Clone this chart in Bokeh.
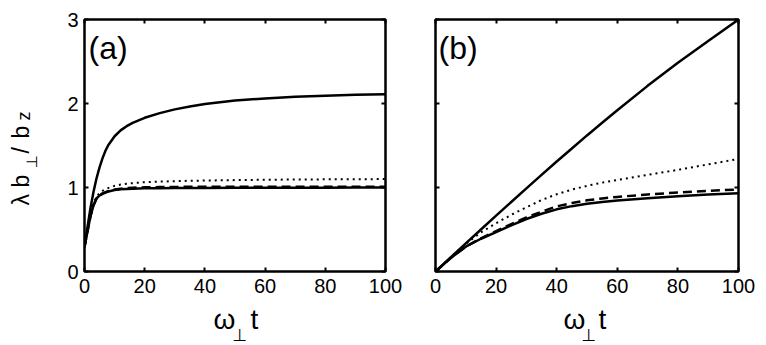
from bokeh.plotting import figure
from bokeh.layouts import row, column
from bokeh.models import Range1d, FixedTicker, LinearAxis, Label
from bokeh.embed import file_html
from bokeh.resources import INLINE
import math

# ---------------- data ----------------
x_ticks = [0, 20, 40, 60, 80, 100]
y_ticks = [0, 1, 2, 3]

# panel (a)
t_a = [0, 1, 2, 3, 4, 5, 6, 7, 8, 10, 12, 14, 16, 18, 20, 25, 30, 35, 40, 50, 60, 70, 80, 90, 100]
a_top = [0.29, 0.53, 0.76, 0.95, 1.11, 1.24, 1.35, 1.44, 1.51, 1.61, 1.68, 1.73, 1.77, 1.80, 1.83,
         1.885, 1.93, 1.965, 1.995, 2.035, 2.06, 2.08, 2.093, 2.103, 2.11]
a_bot = [0.29, 0.48, 0.66, 0.79, 0.87, 0.905, 0.925, 0.94, 0.953, 0.97, 0.978, 0.983, 0.986, 0.988,
         0.99, 0.992, 0.993, 0.994, 0.995, 0.996, 0.997, 0.998, 0.998, 0.999, 0.999]
a_dash = [0.29, 0.48, 0.66, 0.79, 0.87, 0.907, 0.93, 0.945, 0.958, 0.975, 0.985, 0.992, 0.996, 1.0,
          1.002, 1.005, 1.007, 1.008, 1.009, 1.01, 1.01, 1.01, 1.01, 1.01, 1.01]
a_dot = [0.29, 0.49, 0.68, 0.81, 0.89, 0.935, 0.96, 0.98, 0.995, 1.02, 1.035, 1.045, 1.052, 1.058,
         1.063, 1.07, 1.075, 1.08, 1.083, 1.088, 1.092, 1.095, 1.097, 1.099, 1.10]

# panel (b)
t_b = [0, 5, 10, 15, 20, 25, 30, 35, 40, 45, 50, 55, 60, 70, 80, 90, 100]
b_top = [0, 0.168, 0.335, 0.50, 0.665, 0.828, 0.99, 1.15, 1.31, 1.465, 1.62, 1.77, 1.92, 2.21, 2.485, 2.745, 3.0]
b_dot = [0, 0.168, 0.33, 0.465, 0.575, 0.675, 0.765, 0.85, 0.92, 0.975, 1.02, 1.058, 1.09, 1.15, 1.21, 1.275, 1.34]
b_bot = [0, 0.16, 0.295, 0.39, 0.47, 0.55, 0.625, 0.688, 0.74, 0.778, 0.806, 0.828, 0.846, 0.873, 0.896, 0.916, 0.932]
b_dash = [0, 0.16, 0.297, 0.395, 0.48, 0.565, 0.645, 0.712, 0.775, 0.815, 0.847, 0.87, 0.888, 0.917, 0.94, 0.96, 0.976]

FONT = "Liberation Sans"
SYM_FONT = "DejaVu Sans"
MID = 0.3465  # baseline-to-box-centre, in em


def style_axis(ax, show_labels, standoff):
    ax.axis_line_color = None
    ax.major_tick_in = 4
    ax.major_tick_out = 0
    ax.major_tick_line_width = 2
    ax.major_tick_line_color = "black"
    ax.minor_tick_line_color = None
    if show_labels:
        ax.major_label_text_font = FONT
        ax.major_label_text_font_size = "20px"
        ax.major_label_text_color = "black"
        ax.major_label_standoff = standoff
    else:
        ax.major_label_text_color = None
        ax.major_label_text_font_size = "1px"
        ax.major_label_standoff = 0


def make_fig(width, ml, mr, ylabels):
    p = figure(width=width, height=302, output_backend="svg", toolbar_location=None,
               x_range=Range1d(0, 100), y_range=Range1d(0, 3),
               x_axis_type=None, y_axis_type=None,
               min_border_left=ml, min_border_right=mr, min_border_top=19, min_border_bottom=31)
    p.grid.visible = False
    p.outline_line_color = "black"
    p.outline_line_width = 2.5
    p.background_fill_color = "white"
    p.border_fill_color = "white"
    bx = LinearAxis(ticker=FixedTicker(ticks=x_ticks)); style_axis(bx, True, 7); p.add_layout(bx, "below")
    tx = LinearAxis(ticker=FixedTicker(ticks=x_ticks)); style_axis(tx, False, 0); p.add_layout(tx, "above")
    ly = LinearAxis(ticker=FixedTicker(ticks=y_ticks)); style_axis(ly, ylabels, 6); p.add_layout(ly, "left")
    ry = LinearAxis(ticker=FixedTicker(ticks=y_ticks)); style_axis(ry, False, 0); p.add_layout(ry, "right")
    return p


def strip(width, height):
    s = figure(width=width, height=height, output_backend="svg", toolbar_location=None,
               x_range=Range1d(0, width), y_range=Range1d(0, height),
               x_axis_type=None, y_axis_type=None, min_border=0)
    s.grid.visible = False
    s.outline_line_color = None
    s.background_fill_color = "white"
    s.border_fill_color = "white"
    return s


def lab(p, text, x, y, size, font=FONT, angle=0.0):
    p.add_layout(Label(x=x, y=y, text=text, text_font=font, text_font_size=f"{size}px",
                       text_color="black", angle=angle, text_align="left", text_baseline="middle"))


def va(py):
    return (271 - py) / 84.0

def ta(px):
    return (px - 84) / 3.01

def tb(px):
    return (px - 435) / 3.03


pa = make_fig(363, 39, 23, True)
pb = make_fig(358, 27, 28, False)
ylab = strip(45, 345)
xlab = strip(721, 43)

for p, t, top, bot, dash, dot in [(pa, t_a, a_top, a_bot, a_dash, a_dot), (pb, t_b, b_top, b_bot, b_dash, b_dot)]:
    p.line(t, top, line_color="black", line_width=2.5)
    p.line(t, bot, line_color="black", line_width=2.5)
    p.line(t, dash, line_color="black", line_width=2.5, line_dash="9 5")
    p.line(t, dot, line_color="black", line_width=2, line_dash="2 4")

# panel tags
lab(pa, "(a)", ta(88), va(47), 32)
lab(pb, "(b)", tb(438), va(47), 32)

# x axis labels  omega_perp t  (strip pixels: x = image x - 45, y = 345 - image y)
for x_om, x_perp, x_t in [(213, 232, 250), (563, 581, 598)]:
    lab(xlab, "ω", x_om - 45, 345 - 318.5, 28)
    lab(xlab, "⊥", x_perp - 45, 345 - 334.5, 17, font=SYM_FONT)
    lab(xlab, "t", x_t - 45, 345 - 318.5, 28)

# y axis label  lambda b_perp / b_z  (rotated; strip pixels: x = image x, y = 345 - image y)
rot = math.pi / 2
lab(ylab, "λ", 28 - MID * 23, 345 - 205, 23, angle=rot)
lab(ylab, "b", 28 - MID * 23, 345 - 187, 23, angle=rot)
lab(ylab, "⊥", 37 - MID * 15, 345 - 168, 15, font=SYM_FONT, angle=rot)
lab(ylab, "/", 28 - MID * 23, 345 - 153, 23, angle=rot)
lab(ylab, "b", 28 - MID * 23, 345 - 138, 23, angle=rot)
lab(ylab, "z", 30 - MID * 18, 345 - 120, 18, angle=rot)

layout = row(ylab, column(row(pa, pb, spacing=0), xlab, spacing=0), spacing=0)
open("out.html", "w").write(file_html(layout, INLINE))
